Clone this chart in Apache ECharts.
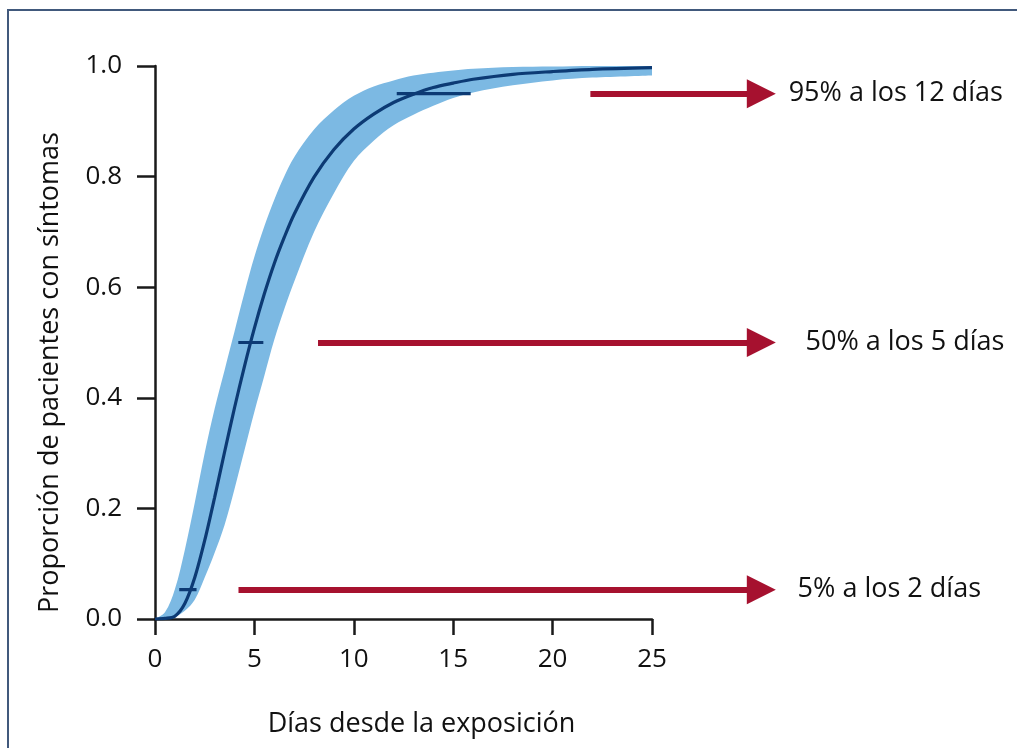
<!DOCTYPE html>
<html>
<head>
<meta charset="utf-8">
<script src="https://cdn.jsdelivr.net/npm/echarts@6/dist/echarts.min.js"></script>
<style>
html,body{margin:0;padding:0;background:#fff;}
#chart{width:1017px;height:748px;}
</style>
</head>
<body>
<div id="chart"></div>
<script>
// ---- data ----
const days      = [0, 0.5, 1, 1.5, 2, 2.5, 3, 3.5, 4, 4.5, 5, 5.5, 6, 6.5, 7, 8, 9, 10, 11, 12, 13, 14, 15, 16, 18, 20, 22, 25];
const median    = [0, 0.001, 0.005, 0.028, 0.075, 0.142, 0.22, 0.302, 0.382, 0.457, 0.526, 0.588, 0.643, 0.69, 0.732, 0.799, 0.849, 0.886, 0.913, 0.934, 0.949, 0.961, 0.969, 0.976, 0.985, 0.99, 0.994, 0.997];
const bandLow   = [0, 0.0005, 0.004, 0.015, 0.035, 0.075, 0.12, 0.17, 0.235, 0.305, 0.375, 0.44, 0.505, 0.56, 0.61, 0.70, 0.77, 0.828, 0.865, 0.893, 0.912, 0.928, 0.942, 0.952, 0.965, 0.974, 0.979, 0.983];
const bandHigh  = [0, 0.012, 0.054, 0.125, 0.21, 0.30, 0.38, 0.45, 0.52, 0.59, 0.655, 0.71, 0.758, 0.80, 0.835, 0.885, 0.92, 0.946, 0.963, 0.974, 0.983, 0.988, 0.992, 0.995, 0.998, 0.999, 1.0, 1.0];

// percentile markers (horizontal interval bars on the curve)
const pctY      = [0.053, 0.5, 0.95];
const pctLow    = [1.22, 4.19, 12.16];
const pctHigh   = [2.09, 5.45, 15.88];

// annotation arrows and texts
const arrowY      = [0.95, 0.5, 0.053];
const arrowStart  = [21.9, 8.2, 4.2];
const arrowEnd    = [30.5, 30.5, 30.5];
const noteX       = [31.85, 32.7, 32.3];
const noteTexts   = ['95% a los 12 días', '50% a los 5 días', '5% a los 2 días'];

const xTicks = [0, 5, 10, 15, 20, 25];
const yTicks = [0, 0.2, 0.4, 0.6, 0.8, 1.0];

const xTitle = 'Días desde la exposición';
const yTitle = 'Proporción de pacientes con síntomas';

// ---- build ----
const FONT = 'Open Sans';
const TXT = '#111111';
const lowerData = days.map((d, i) => [d, bandLow[i]]);
const upperData = days.map((d, i) => [d, bandHigh[i]]);
const medianData = days.map((d, i) => [d, median[i]]);

const series = [
  { // upper edge of the band, filled down to 0
    type: 'line', xAxisIndex: 0, yAxisIndex: 0,
    data: upperData, smooth: 0.35, symbol: 'none', silent: true,
    lineStyle: { width: 0, opacity: 0 }, areaStyle: { color: '#7cb9e3', opacity: 1 }, z: -3
  },
  { // lower edge of the band, white below it
    type: 'line', xAxisIndex: 0, yAxisIndex: 0,
    data: lowerData, smooth: 0.35, symbol: 'none', silent: true,
    lineStyle: { width: 0, opacity: 0 }, areaStyle: { color: '#ffffff', opacity: 1 }, z: -2
  },
  {
    type: 'line', xAxisIndex: 0, yAxisIndex: 0,
    data: medianData, smooth: 0.3, symbol: 'none', silent: true,
    lineStyle: { color: '#0c3a74', width: 3.2 }, z: 3
  }
];
pctY.forEach((y, i) => {
  series.push({
    type: 'line', xAxisIndex: 0, yAxisIndex: 0,
    data: [[pctLow[i], y], [pctHigh[i], y]], symbol: 'none', silent: true,
    lineStyle: { color: '#0c3a74', width: 3.2 }, z: 4
  });
});
series.push({
  type: 'scatter', xAxisIndex: 1, yAxisIndex: 1, silent: true,
  symbolSize: 1, itemStyle: { opacity: 0 },
  data: noteTexts.map((t, i) => ({ value: [noteX[i], arrowY[i]], name: t })),
  label: {
    show: true, position: 'right', distance: 0, formatter: p => p.name,
    fontFamily: FONT, fontSize: 27, color: TXT, opacity: 1
  },
  markLine: {
    silent: true, symbol: ['none', 'triangle'], symbolSize: 29,
    label: { show: false },
    lineStyle: { color: '#a6112f', width: 6, type: 'solid', opacity: 1 },
    emphasis: { disabled: true },
    data: arrowY.map((y, i) => [{ coord: [arrowStart[i], y] }, { coord: [arrowEnd[i], y] }])
  },
  z: 5
});

const chart = echarts.init(document.getElementById('chart'), null, { renderer: 'canvas' });
chart.setOption({
  animation: false,
  backgroundColor: '#ffffff',
  textStyle: { fontFamily: FONT },
  graphic: [{
    type: 'polyline', silent: true,
    shape: { points: [[8, 800], [8, 10], [1100, 10]] },
    style: { fill: null, stroke: '#41597c', lineWidth: 2 }, z: -10
  }],
  grid: [
    { left: 155, top: 66, width: 497, height: 553 },
    { left: 155, top: 66, width: 795.2, height: 553 }
  ],
  xAxis: [
    {
      type: 'value', gridIndex: 0, min: xTicks[0], max: xTicks[xTicks.length - 1], interval: 5,
      name: xTitle, nameLocation: 'middle', nameGap: 92,
      nameTextStyle: { fontFamily: FONT, fontSize: 27, color: TXT, padding: [0, 0, 0, 36] },
      axisLine: { show: true, lineStyle: { color: '#1a1a1a', width: 2.5 } },
      axisTick: { show: true, inside: false, length: 16, lineStyle: { color: '#1a1a1a', width: 2.5 } },
      axisLabel: { fontFamily: FONT, fontSize: 26, color: TXT, margin: 28 },
      splitLine: { show: false }
    },
    { type: 'value', gridIndex: 1, min: 0, max: 40, show: false }
  ],
  yAxis: [
    {
      type: 'value', gridIndex: 0, min: yTicks[0], max: yTicks[yTicks.length - 1], interval: 0.2,
      name: yTitle, nameLocation: 'middle', nameGap: 91,
      nameTextStyle: { fontFamily: FONT, fontSize: 27, color: TXT, padding: [0, 60, 0, 0] },
      axisLine: { show: true, lineStyle: { color: '#1a1a1a', width: 2.5 } },
      axisTick: { show: true, inside: false, length: 18, lineStyle: { color: '#1a1a1a', width: 2.5 } },
      axisLabel: { fontFamily: FONT, fontSize: 26, color: TXT, margin: 33, formatter: v => v.toFixed(1) },
      splitLine: { show: false }
    },
    { type: 'value', gridIndex: 1, min: 0, max: 1, show: false }
  ],
  series: series
});
</script>
</body>
</html>
